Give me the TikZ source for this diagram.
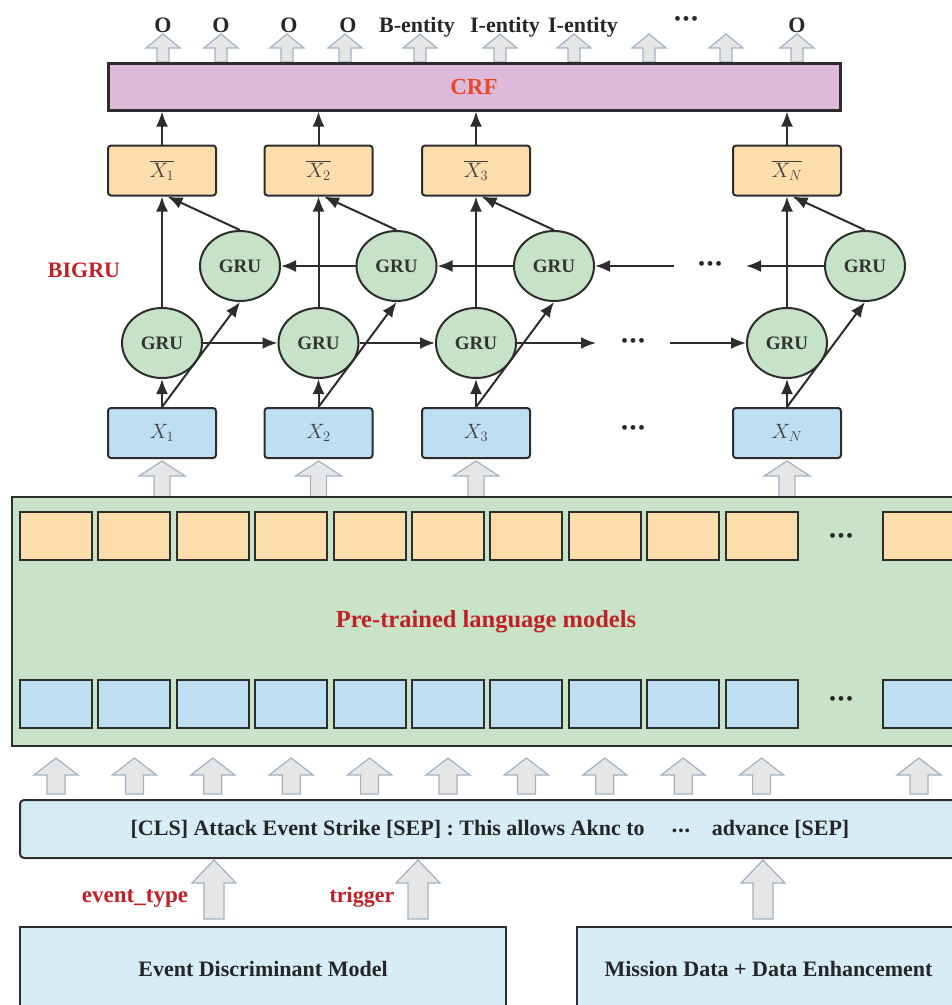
\documentclass[tikz,border=0pt]{standalone}
\usepackage{fontspec}
\setmainfont{Liberation Serif}
\usetikzlibrary{arrows.meta,shapes.geometric}
\definecolor{linegray}{RGB}{45,45,45}
\definecolor{crfpink}{RGB}{221,186,218}
\definecolor{outorange}{RGB}{252,221,172}
\definecolor{inblue}{RGB}{190,222,242}
\definecolor{grugreen}{RGB}{198,227,200}
\definecolor{plmgreen}{RGB}{200,227,200}
\definecolor{seqblue}{RGB}{214,237,245}
\definecolor{labelred}{RGB}{192,32,38}
\definecolor{crfred}{RGB}{232,72,40}
\definecolor{arrowfill}{RGB}{230,230,230}
\definecolor{arrowline}{RGB}{160,178,196}
\newcommand{\blockarrow}[6]{
	\draw[garrow] (#1-#6,#4) -- (#1-#6,#3) -- (#1-#5,#3) -- (#1,#2) -- (#1+#5,#3) -- (#1+#6,#3) -- (#1+#6,#4) -- cycle;
}
\newcommand{\bigdots}{\textbullet\hspace{1.5pt}\textbullet\hspace{1.5pt}\textbullet}

\begin{document}
\begin{tikzpicture}[x=1pt,y=-1pt, line width=2pt,
	>={Latex[length=15pt,width=12pt]},
	link/.style={->, draw=linegray},
	garrow/.style={fill=arrowfill, draw=arrowline, line width=1.2pt},
	cellbox/.style={draw=linegray, line width=2pt, minimum width=108pt, minimum height=50pt, inner sep=0pt, rounded corners=3pt, text=black!75, font=\fontsize{20}{24}\selectfont},
	outbox/.style={cellbox, fill=outorange},
	inbox/.style={cellbox, fill=inblue},
	gru/.style={ellipse, draw=linegray, line width=2pt, fill=grugreen, minimum width=80pt, minimum height=70pt, inner sep=0pt, text=black!80, font=\fontsize{19}{22}\selectfont\bfseries},
	ocell/.style={draw=linegray, line width=2pt, fill=outorange, minimum width=72pt, minimum height=48pt},
	bcell/.style={ocell, fill=inblue},
	tag/.style={font=\fontsize{22}{26}\selectfont\bfseries, text=black!85, anchor=base, inner sep=0pt},
	redtag/.style={font=\fontsize{22}{26}\selectfont\bfseries, text=labelred, inner sep=0pt},
	dotsnode/.style={font=\fontsize{20}{24}\selectfont, text=black!85, inner sep=0pt}]
	\clip (0,0) rectangle (952,1005);

	% output tags
	\foreach \n/\tx/\tt in {1/163/O,2/221/O,3/289/O,4/348/O,5/417/B-entity,6/505/I-entity,7/583/I-entity,9/797/O}
		\node[tag] (tag\n) at (\tx,32) {\tt};
	\node[dotsnode] (tag8) at (686,21) {\bigdots};
	\foreach \ax in {163,221,287,345,420,500,574,649,726,797} {
		\blockarrow{\ax}{34}{48}{62}{17}{6}
	}

	\node[draw=linegray, line width=3pt, fill=crfpink, minimum width=732pt, minimum height=47pt, text=crfred, font=\fontsize{23}{26}\selectfont\bfseries] (crf) at (474,86.5) {CRF};

	% BiGRU layer
	\node[redtag] (bigru) at (84,270) {BIGRU};
	\foreach \n/\cx in {1/162,2/318.5,3/476,N/787} {
		\node[outbox] (xbar\n) at (\cx,170.5) {$\overline{X_{\n}}$};
		\node[inbox] (x\n) at (\cx,433) {$X_{\n}$};
		\node[gru] (fw\n) at (\cx,343) {GRU};
		\node[gru] (bw\n) at (\cx+78,266) {GRU};
		\draw[link] (x\n.north) -- (fw\n.south);
		\draw[link] (x\n.north) -- (bw\n.south);
		\draw[link] (fw\n.north) -- (xbar\n.south);
		\draw[link] (bw\n.north) -- (xbar\n.-78);
		\draw[link] (xbar\n.north) -- (xbar\n.north |- crf.south);
		\blockarrow{\cx}{461}{476}{497}{23}{8}
	}
	\node[dotsnode, minimum width=72pt] (fdots) at (633,343) {\bigdots};
	\node[dotsnode, minimum width=70pt] (bdots) at (710,266) {\bigdots};
	\node[dotsnode] (xdots) at (633,430) {\bigdots};

	\draw[link] (fw1.east) -- (fw2.west);
	\draw[link] (fw2.east) -- (fw3.west);
	\draw[link] (fw3.east) -- (fdots.west);
	\draw[link] (fdots.east) -- (fwN.west);
	\draw[link] (bwN.west) -- (bdots.east);
	\draw[link] (bdots.west) -- (bw3.east);
	\draw[link] (bw3.west) -- (bw2.east);
	\draw[link] (bw2.west) -- (bw1.east);

	% language model
	\node[draw=linegray, line width=2pt, fill=plmgreen, minimum width=948pt, minimum height=249pt, text=labelred, font=\fontsize{24.5}{28}\selectfont\bfseries] (plm) at (486,621.5) {Pre-trained language models};
	\foreach \i in {0,...,9} {
		\node[ocell] (oc\i) at (56+78.4*\i,536) {};
		\node[bcell] (bc\i) at (56+78.4*\i,703.5) {};
		\blockarrow{56+78.4*\i}{758}{775}{794}{22}{9}
	}
	\node[ocell] (oc10) at (919,536) {};
	\node[bcell] (bc10) at (919,703.5) {};
	\node[dotsnode] (odots) at (841,538) {\bigdots};
	\node[dotsnode] (bdots2) at (841,701) {\bigdots};
	\blockarrow{919}{758}{775}{794}{22}{9}

	% input
	\node[draw=linegray, line width=2pt, fill=seqblue, rounded corners=4pt, minimum width=940pt, minimum height=58pt, text=black!85, font=\fontsize{22}{26}\selectfont\bfseries] (seq) at (490,829) {[CLS] Attack Event Strike [SEP] : This allows Aknc to \quad{\fontsize{14}{16}\selectfont\bigdots}\quad advance [SEP]};
	\foreach \ax in {214,418,763} {
		\blockarrow{\ax}{860}{883}{919}{22}{10}
	}
	\node[redtag, anchor=base, font=\fontsize{23}{26}\selectfont\bfseries] (evtype) at (135,902) {event\_type};
	\node[redtag, anchor=base] (trig) at (362,902) {trigger};

	\node[draw=linegray, line width=2pt, fill=seqblue, minimum width=486pt, minimum height=83pt, text=black!85, font=\fontsize{22}{26}\selectfont\bfseries] (edm) at (263,968.5) {Event Discriminant Model};
	\node[draw=linegray, line width=2pt, fill=seqblue, minimum width=383pt, minimum height=83pt, text=black!85, font=\fontsize{22}{26}\selectfont\bfseries] (mde) at (768.5,968.5) {Mission Data + Data Enhancement};
\end{tikzpicture}
\end{document}
